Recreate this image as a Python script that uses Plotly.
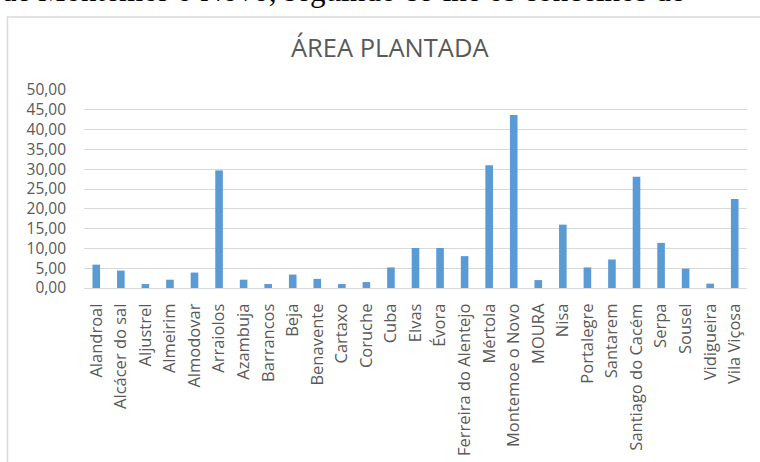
import plotly.graph_objects as go

categories = ["Alandroal", "Alcácer do sal", "Aljustrel", "Almeirim", "Almodovar", "Arraiolos",
              "Azambuja", "Barrancos", "Beja", "Benavente", "Cartaxo", "Coruche", "Cuba", "Elvas",
              "Évora", "Ferreira do Alentejo", "Mértola", "Montemoe o Novo", "MOURA", "Nisa",
              "Portalegre", "Santarem", "Santiago do Cacém", "Serpa", "Sousel", "Vidigueira",
              "Vila Viçosa"]
values = [5.9, 4.4, 1.0, 2.1, 3.9, 29.7, 2.1, 1.0, 3.4, 2.3, 1.0, 1.5, 5.2, 10.1, 10.1, 8.05,
          31.0, 43.7, 2.0, 16.0, 5.2, 7.2, 28.1, 11.4, 4.9, 1.1, 22.5]
y_ticks = [0, 5, 10, 15, 20, 25, 30, 35, 40, 45, 50]
title_text = "ÁREA PLANTADA"
page_text = "de Montemor o Novo, seguindo-se-lhe os concelhos de"

W, H = 760, 462
L, R, T, B = 84, 747, 90, 288
PW, PH = R - L, B - T

def px(x):
    return (x - L) / PW

def py(y):
    return (B - y) / PH

TXT = "#595959"
fig = go.Figure(go.Bar(x=categories, y=values, marker=dict(color="#5B9BD5", line=dict(width=0)),
                       width=0.31))

fig.update_layout(
    width=W, height=H,
    margin=dict(l=L, r=W - R, t=T, b=H - B, pad=0, autoexpand=False),
    paper_bgcolor="white", plot_bgcolor="white",
    separators=",.",
    showlegend=False,
    font=dict(family="Open Sans", color=TXT),
)
fig.update_yaxes(range=[0, 50], tickvals=y_ticks, tickformat=".2f", automargin=False,
                 showgrid=True, gridcolor="#D9D9D9", gridwidth=1, zeroline=False,
                 showline=False, ticks="", ticklabelstandoff=17,
                 tickfont=dict(size=15.5, color=TXT, family="Open Sans"))
fig.update_xaxes(showgrid=False, showline=True, linecolor="#D9D9D9", linewidth=1, automargin=False,
                 ticks="", tickangle=-90, ticklabelstandoff=8,
                 tickfont=dict(size=16.5, color=TXT, family="Open Sans"))

fig.add_annotation(text=title_text, xref="paper", yref="paper", x=px(389.5), y=py(47),
                   xanchor="center", yanchor="middle", showarrow=False,
                   font=dict(size=25.5, color=TXT, family="Open Sans"))
fig.add_annotation(text=page_text, xref="paper", yref="paper", x=px(-1), y=py(-9.5),
                   xanchor="left", yanchor="middle", showarrow=False,
                   font=dict(size=31, color="black", family="Liberation Serif"))
fig.add_shape(type="rect", xref="paper", yref="paper", x0=px(7.5), x1=px(800), y0=py(520), y1=py(17),
              line=dict(color="#D9D9D9", width=1.5), fillcolor="rgba(0,0,0,0)", layer="below")

fig.write_html("out.html")
